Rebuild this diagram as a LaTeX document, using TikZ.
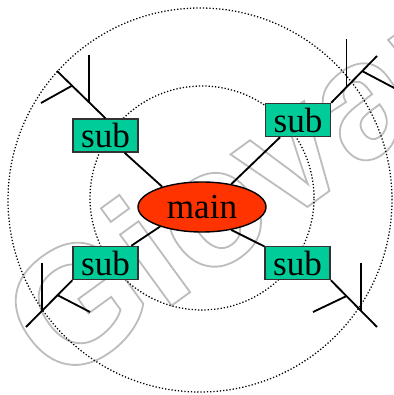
\documentclass[tikz,border=0pt]{standalone}
\usepackage{fontspec}
\setmainfont{Liberation Serif}
\newfontfamily\wmfont{Liberation Sans}
\usepackage{xcolor}
\usetikzlibrary{calc, shapes.geometric, positioning}

\definecolor{mainred}{HTML}{FF3300}
\definecolor{subgreen}{HTML}{00CC99}
\definecolor{wmgray}{HTML}{BDBDBD}
\newcommand{\outlinetext}[1]{%
  \special{pdf:literal direct 1 Tr 1.3 w}#1\special{pdf:literal direct 0 Tr}}

\begin{document}
\begin{tikzpicture}[>=latex,
    ring/.style={line width=0.9pt, dash pattern=on 0.9pt off 1.4pt},
    link/.style={line width=1.3pt},
    mainnode/.style={ellipse, draw, line width=1pt, fill=mainred,
        minimum width=3.2cm, minimum height=1.25cm, inner sep=0pt,
        font=\fontsize{25}{30}\selectfont},
    subnode/.style={rectangle, draw=black!80, line width=1pt, fill=subgreen,
        minimum width=1.625cm, minimum height=0.825cm, inner sep=0pt,
        font=\fontsize{25}{30}\selectfont},
    wmark/.style={inner sep=0pt, text=wmgray,
        font=\wmfont\bfseries\fontsize{118}{118}\selectfont}]
                \useasboundingbox (-5,-4.875) rectangle (4.85,5);
                \clip (-5,-4.875) rectangle (4.85,5);

                % 1. Chu chim
                \node[wmark, rotate=36, anchor=base west] (wm) at (-3.56,-4.71)
                    {\outlinetext{Giovanni}};

                % 2. Hai vong tron
                \draw[ring] (0,0) circle (4.8);
                \draw[ring] (0.05,0.05) circle (2.8);

                % 3. Cac nut
                \node[mainnode] (main) at (0.05,-0.175) {main};
                \node[subnode] (sub1) at (-2.36,1.61) {sub};
                \node[subnode] (sub2) at (2.45,2.0) {sub};
                \node[subnode] (sub3) at (-2.36,-1.575) {sub};
                \node[subnode] (sub4) at (2.44,-1.575) {sub};

                \draw[link] (main.153) -- (sub1);
                \draw[link] (main.38) -- (sub2);
                \draw[link] (main.205) -- (sub3);
                \draw[link] (main.-38) -- (sub4);

                % 4. Cac nhanh
                \coordinate (tlend) at (-3.575,3.225);
                \coordinate (tltop) at (-2.775,3.625);
                \coordinate (tlside) at (-3.975,2.425);
                \coordinate (tla) at ($(sub1.north)!0.34!(tlend)$);
                \coordinate (tlb) at ($(sub1.north)!0.69!(tlend)$);
                \draw[link] (sub1.north) -- (tlend);
                \draw[link] (tla) -- (tla |- tltop);
                \draw[link] (tlb) -- (tlside);

                \coordinate (trend) at (4.425,3.6);
                \coordinate (trtop) at (3.65,4.025);
                \coordinate (trside) at (4.95,2.75);
                \coordinate (tra) at ($(sub2.north east)!0.333!(trend)$);
                \coordinate (trb) at ($(sub2.north east)!0.677!(trend)$);
                \draw[link] (sub2.north east) -- (trend);
                \draw[link] (tra) -- (tra |- trtop);
                \draw[link] (trb) -- (trside);

                \coordinate (blend) at (-4.35,-3.175);
                \coordinate (bltop) at (-3.95,-1.575);
                \coordinate (blside) at (-2.75,-2.8);
                \coordinate (bla) at ($(sub3.south west)!0.32!(blend)$);
                \coordinate (blb) at ($(sub3.south west)!0.66!(blend)$);
                \draw[link] (sub3.south west) -- (blend);
                \draw[link] (bla) -- (blside);
                \draw[link] (blb) -- (blb |- bltop);

                \coordinate (brend) at (4.425,-3.175);
                \coordinate (brtop) at (4.025,-1.575);
                \coordinate (brside) at (2.825,-2.8);
                \coordinate (bra) at ($(sub4.south east)!0.339!(brend)$);
                \coordinate (brb) at ($(sub4.south east)!0.659!(brend)$);
                \draw[link] (sub4.south east) -- (brend);
                \draw[link] (bra) -- (brside);
                \draw[link] (brb) -- (brb |- brtop);
            \end{tikzpicture}
\end{document}
